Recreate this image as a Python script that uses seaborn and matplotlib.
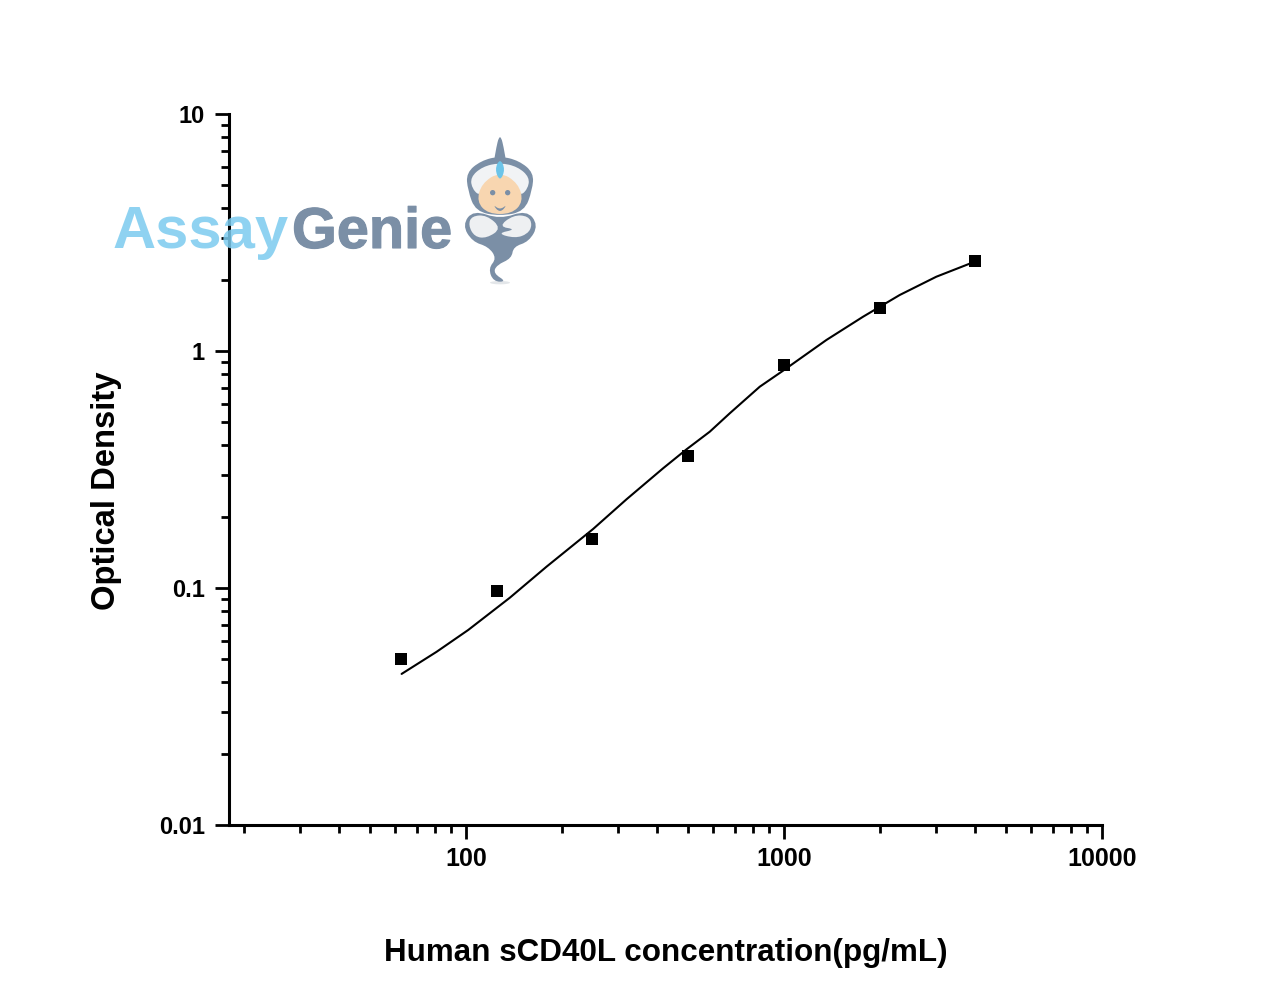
import numpy as np
import pandas as pd
import matplotlib
matplotlib.use("Agg")
import matplotlib.pyplot as plt
import matplotlib.patheffects as pe
import seaborn as sns
from matplotlib.path import Path
from matplotlib.patches import PathPatch, Ellipse
from matplotlib.ticker import LogLocator, NullFormatter
from matplotlib.transforms import Affine2D

# standards
conc = [62.5, 125, 250, 500, 1000, 2000, 4000]
od = [0.0502, 0.0971, 0.161, 0.3605, 0.873, 1.518, 2.398]

# fitted curve
fit_conc = [62.8, 80.9, 101.7, 137.5, 179.3, 251.2, 319.9, 416.9, 494,
            584.6, 675.6, 839.5, 993.6, 1360, 1773, 2312, 3014, 3978]
fit_od = [0.0434, 0.0538, 0.0665, 0.0910, 0.1230, 0.1774, 0.2367, 0.3199, 0.3847,
          0.4566, 0.5459, 0.7069, 0.8258, 1.113, 1.395, 1.723, 2.058, 2.381]

x_ticks = [100, 1000, 10000]
x_labels = ["100", "1000", "10000"]
y_ticks = [0.01, 0.1, 1, 10]
y_labels = ["0.01", "0.1", "1", "10"]

sns.set_style("ticks")
plt.rcParams["font.family"] = ["Liberation Sans", "DejaVu Sans"]
plt.rcParams["font.weight"] = "bold"
plt.rcParams["text.color"] = "black"
plt.rcParams["xtick.labelcolor"] = "black"
plt.rcParams["ytick.labelcolor"] = "black"

W, H = 1280, 989
fig = plt.figure(figsize=(W / 100, H / 100), dpi=100)
ax = fig.add_axes([229 / W, 1 - 825 / H, (1102 - 229) / W, (825 - 114) / H])

df_fit = pd.DataFrame({"conc": fit_conc, "od": fit_od})
df_pts = pd.DataFrame({"conc": conc, "od": od})
sns.lineplot(data=df_fit, x="conc", y="od", color="black", linewidth=1.5,
             estimator=None, sort=False, ax=ax)
sns.scatterplot(data=df_pts, x="conc", y="od", color="black", marker="s", s=78,
                linewidth=0, ax=ax, zorder=3)

ax.set_xscale("log")
ax.set_yscale("log")
ax.set_xlim(18, 10000)
ax.set_ylim(0.01, 10)
ax.set_xticks(x_ticks, x_labels)
ax.set_yticks(y_ticks, y_labels)
ax.xaxis.set_minor_locator(LogLocator(base=10, subs=range(2, 10), numticks=12))
ax.yaxis.set_minor_locator(LogLocator(base=10, subs=range(2, 10), numticks=12))
ax.xaxis.set_minor_formatter(NullFormatter())
ax.yaxis.set_minor_formatter(NullFormatter())
ax.tick_params(which="major", length=10, width=2, color="black")
ax.tick_params(which="minor", length=6, width=2, color="black")
ax.tick_params(axis="x", which="major", labelsize=18, pad=5.5)
ax.tick_params(axis="y", which="major", labelsize=17, pad=7.5)
ax.patch.set_alpha(0)
sns.despine(ax=ax)
for side in ["left", "bottom"]:
    ax.spines[side].set_linewidth(2.2)
    ax.spines[side].set_color("black")

ax.set_xlabel("")
ax.set_ylabel("")
fig.text(666 / W, 1 - 953 / H, "Human sCD40L concentration(pg/mL)", fontsize=22.6,
         fontweight="bold", ha="center", va="center")
fig.text(106 / W, 1 - 491 / H, "Optical Density", fontsize=23.6, fontweight="bold",
         rotation=90, ha="center", va="center")

# logo, placed in picture pixels
px = Affine2D().scale(1 / W, -1 / H).translate(0, 1) + fig.transFigure
fig.text(113 / W, 1 - 248 / H, "Assay", fontsize=43, fontweight="bold", color="#7ccbef",
         alpha=0.85, ha="left", va="baseline", zorder=10)
t = fig.text(292 / W, 1 - 248 / H, "Genie", fontsize=41.5, fontweight="bold", color="#7b8fa6",
             ha="left", va="baseline", zorder=10)
t.set_path_effects([pe.withStroke(linewidth=0.8, foreground="#7b8fa6")])


def blob(points, color, z=11):
    # closed smooth shape through zoomed logo coordinates
    pts = np.array(points, dtype=float) / 3 + [455, 130]
    mids = (pts + np.roll(pts, -1, axis=0)) / 2
    verts = [mids[-1]]
    codes = [Path.MOVETO]
    for p, m in zip(pts, mids):
        verts += [p, m]
        codes += [Path.CURVE3, Path.CURVE3]
    fig.add_artist(PathPatch(Path(verts, codes), fc=color, ec="none", transform=px, zorder=z))


def dot(x, y, w, h, color, z=13):
    fig.add_artist(Ellipse((455 + x / 3, 130 + y / 3), w / 3, h / 3, fc=color, ec="none",
                           transform=px, zorder=z))


slate = "#7b8fa6"
dot(135, 458, 60, 10, "#e3e6e9", 11)
# spike and turban
blob([(135, 5), (120, 70), (115, 115), (155, 115), (150, 70)], slate)
blob([(135, 78), (192, 92), (236, 128), (232, 180), (208, 245), (135, 258), (62, 245),
      (38, 180), (34, 128), (78, 92)], slate)
blob([(135, 98), (188, 110), (224, 142), (218, 178), (192, 200), (135, 125), (78, 200),
      (52, 178), (46, 142), (82, 110)], "#f1f3f5", 12)
# face
blob([(135, 125), (190, 160), (205, 215), (170, 252), (100, 252), (65, 215), (80, 160)],
     "#f8d6b0", 12)
blob([(135, 85), (151, 118), (135, 155), (119, 118)], "#6cc4e8", 13)
dot(113, 188, 16, 16, slate)
dot(158, 188, 16, 16, slate)
blob([(112, 222), (135, 240), (158, 222), (135, 250)], slate, 13)
# arms and tail
blob([(55, 240), (135, 268), (215, 240), (250, 285), (222, 335), (175, 350), (170, 385),
      (125, 405), (115, 430), (155, 455), (115, 455), (100, 415), (125, 385), (100, 350),
      (52, 335), (22, 285)], slate)
blob([(50, 258), (95, 255), (140, 295), (95, 325), (58, 320), (40, 285)], "#eef0f2", 12)
blob([(220, 258), (175, 255), (130, 290), (185, 298), (125, 310), (180, 325), (218, 312),
      (232, 285)], "#eef0f2", 12)

plt.savefig("out.png", dpi=100)
